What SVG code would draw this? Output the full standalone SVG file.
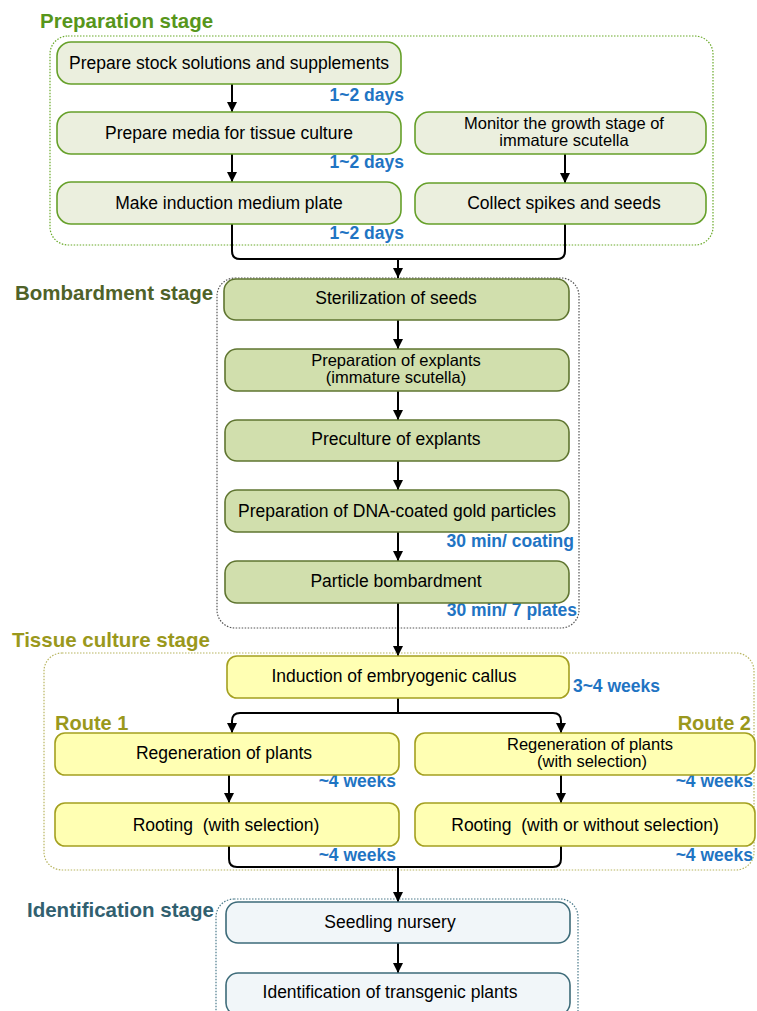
<svg xmlns="http://www.w3.org/2000/svg" width="757" height="1011" viewBox="0 0 757 1011">
<defs>
<marker id="ah" viewBox="0 0 10 10" refX="10" refY="5" markerWidth="10" markerHeight="10" markerUnits="userSpaceOnUse" orient="auto"><path d="M0,0 L10,5 L0,10 z" fill="#000"/></marker>
<style>
text{font-family:"Liberation Sans",Arial,sans-serif}
.t{font-size:17.5px;fill:#000;text-anchor:middle}
.t2{font-size:16.5px;fill:#000;text-anchor:middle}
.d{font-size:17.5px;font-weight:bold;fill:#1f74c3;text-anchor:end}
.st{font-size:20.5px;font-weight:bold}
.prep{fill:#ebefde;stroke:#66a02a;stroke-width:1.6}
.bomb{fill:#d1dfad;stroke:#5f7530;stroke-width:1.6}
.tis{fill:#ffffb3;stroke:#a4a020;stroke-width:1.6}
.idn{fill:#f1f6f9;stroke:#3d6b79;stroke-width:1.6}
.box{fill:none;stroke-width:1.2;stroke-dasharray:1.5 1.5}
.c{fill:none;stroke:#000;stroke-width:2}
.ca{fill:none;stroke:#000;stroke-width:2;marker-end:url(#ah)}
</style>
</defs>

<!-- stage containers -->
<g id="containers">
<rect class="box" x="50" y="36" width="663" height="209" rx="18" stroke="#6aaa2a"/>
<rect class="box" x="217" y="278" width="362" height="350" rx="18" stroke="#555"/>
<rect class="box" x="44" y="653" width="710" height="217" rx="18" stroke="#b8b560"/>
<rect class="box" x="216" y="899" width="362" height="130" rx="18" stroke="#4a7a8a"/>
</g>

<!-- stage titles -->
<g id="titles">
<text class="st" x="40" y="28" fill="#57961b">Preparation stage</text>
<text class="st" x="15" y="300" fill="#4f6228">Bombardment stage</text>
<text class="st" x="12" y="647" fill="#9a981c">Tissue culture stage</text>
<text class="st" x="27" y="917" fill="#31606f">Identification stage</text>
<text x="55" y="730" font-size="20" font-weight="bold" fill="#9a981c">Route 1</text>
<text x="751" y="730" font-size="20" font-weight="bold" fill="#9a981c" text-anchor="end">Route 2</text>
</g>

<!-- connectors -->
<g id="connectors">
<path class="ca" d="M232,84 V112"/>
<path class="ca" d="M232,154 V182"/>
<path class="ca" d="M565,154 V183"/>
<path class="c" d="M232,224 V251 Q232,259 240,259 H557 Q565,259 565,251 V224"/>
<path class="ca" d="M398,259 V278"/>
<path class="ca" d="M398,320 V349"/>
<path class="ca" d="M398,391 V420"/>
<path class="ca" d="M398,461 V490"/>
<path class="ca" d="M398,532 V561"/>
<path class="ca" d="M398,603 V656"/>
<path class="ca" d="M398,698 V713 H240 Q232,713 232,721 V733"/>
<path class="ca" d="M398,713 H553 Q561,713 561,721 V733"/>
<path class="ca" d="M229,775 V803"/>
<path class="ca" d="M561,775 V803"/>
<path class="c" d="M229,846 V859 Q229,867 237,867 H553 Q561,867 561,859 V846"/>
<path class="ca" d="M398,867 V902"/>
<path class="ca" d="M398,943 V973"/>
</g>

<!-- durations -->
<g id="durations">
<text class="d" x="404" y="101">1~2 days</text>
<text class="d" x="404" y="168">1~2 days</text>
<text class="d" x="404" y="239">1~2 days</text>
<text class="d" x="574" y="547">30 min/ coating</text>
<text class="d" x="577" y="616">30 min/ 7 plates</text>
<text class="d" x="660" y="692">3~4 weeks</text>
<text class="d" x="396" y="787">~4 weeks</text>
<text class="d" x="753" y="787">~4 weeks</text>
<text class="d" x="396" y="861">~4 weeks</text>
<text class="d" x="753" y="861">~4 weeks</text>
</g>

<!-- preparation nodes -->
<g id="n1"><rect class="prep" x="57" y="42" width="344" height="42" rx="14"/><text class="t" x="229" y="69">Prepare stock solutions and supplements</text></g>
<g id="n2"><rect class="prep" x="57" y="112" width="344" height="42" rx="14"/><text class="t" x="229" y="139">Prepare media for tissue culture</text></g>
<g id="n3"><rect class="prep" x="57" y="182" width="344" height="42" rx="14"/><text class="t" x="229" y="209">Make induction medium plate</text></g>
<g id="n4"><rect class="prep" x="415" y="112" width="291" height="42" rx="14"/><text class="t2" x="564" y="129">Monitor the growth stage of</text><text class="t2" x="564" y="146">immature scutella</text></g>
<g id="n5"><rect class="prep" x="415" y="183" width="291" height="41" rx="14"/><text class="t" x="564" y="209">Collect spikes and seeds</text></g>

<!-- bombardment nodes -->
<g id="b1"><rect class="bomb" x="224" y="279" width="345" height="41" rx="12"/><text class="t" x="396" y="304">Sterilization of seeds</text></g>
<g id="b2"><rect class="bomb" x="225" y="349" width="344" height="42" rx="12"/><text class="t2" x="396" y="366">Preparation of explants</text><text class="t2" x="396" y="383">(immature scutella)</text></g>
<g id="b3"><rect class="bomb" x="225" y="420" width="344" height="41" rx="12"/><text class="t" x="396" y="445">Preculture of explants</text></g>
<g id="b4"><rect class="bomb" x="225" y="490" width="344" height="42" rx="12"/><text class="t" x="397" y="517">Preparation of DNA-coated gold particles</text></g>
<g id="b5"><rect class="bomb" x="225" y="561" width="344" height="42" rx="12"/><text class="t" x="396" y="587">Particle bombardment</text></g>

<!-- tissue culture nodes -->
<g id="t1"><rect class="tis" x="227" y="656" width="342" height="42" rx="10"/><text class="t" x="394" y="682">Induction of embryogenic callus</text></g>
<g id="t2"><rect class="tis" x="55" y="733" width="344" height="42" rx="10"/><text class="t" x="224" y="759">Regeneration of plants</text></g>
<g id="t3"><rect class="tis" x="415" y="733" width="340" height="42" rx="10"/><text class="t2" x="590" y="750">Regeneration of plants</text><text class="t2" x="592" y="767">(with selection)</text></g>
<g id="t4"><rect class="tis" x="55" y="803" width="344" height="43" rx="10"/><text class="t" x="226" y="831">Rooting&#160; (with selection)</text></g>
<g id="t5"><rect class="tis" x="415" y="803" width="340" height="43" rx="10"/><text class="t" x="585" y="831">Rooting&#160; (with or without selection)</text></g>

<!-- identification nodes -->
<g id="i1"><rect class="idn" x="226" y="902" width="344" height="41" rx="12"/><text class="t" x="390" y="928">Seedling nursery</text></g>
<g id="i2"><rect class="idn" x="226" y="973" width="344" height="42" rx="12"/><text class="t" x="390" y="998">Identification of transgenic plants</text></g>
</svg>
